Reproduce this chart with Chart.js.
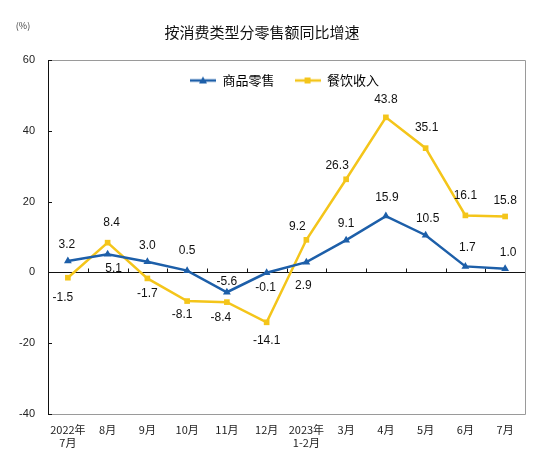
<!DOCTYPE html>
<html>
<head>
<meta charset="utf-8">
<script src="https://cdn.jsdelivr.net/npm/chart.js@4.4.0/dist/chart.umd.min.js"></script>
<style>
html,body{margin:0;padding:0;background:#fff;}
#wrap{width:554px;height:467px;position:relative;}
</style>
</head>
<body>
<div id="wrap"><canvas id="c" width="554" height="467"></canvas></div>
<script>
const categories = [["2022年","7月"],"8月","9月","10月","11月","12月",["2023年","1-2月"],"3月","4月","5月","6月","7月"];
const retailGoods = [3.2, 5.1, 3.0, 0.5, -5.6, -0.1, 2.9, 9.1, 15.9, 10.5, 1.7, 1.0];
const catering = [-1.5, 8.4, -1.7, -8.1, -8.4, -14.1, 9.2, 26.3, 43.8, 35.1, 16.1, 15.8];
const yTicks = [-40, -20, 0, 20, 40, 60];
const seriesNames = ["商品零售", "餐饮收入"];
const titleText = "按消费类型分零售额同比增速";
const unitText = "(%)";

const BLUE = '#1D5FA9';
const YELLOW = '#F4C51A';
const FONT = '"Liberation Sans", Arial, sans-serif';
const CJK = '"Noto Sans CJK SC", "Liberation Sans", sans-serif';

// label offsets relative to each point (style only)
const blueOffsets = [[-1,-16],[6,14],[0,-16],[0,-20],[0,-11],[-1,15],[-3,24],[0,-16],[1,-18],[2,-17],[2,-19],[3,-16]];
const yellowOffsets = [[-5,20],[4,-20],[0,15],[-5,14],[-6,16],[0,18],[-9,-13],[-9,-14],[0,-18],[1,-20],[0,-20],[0,-16]];

function legendIcon(color, style) {
  const cv = document.createElement('canvas');
  cv.width = 26; cv.height = 10;
  const g = cv.getContext('2d');
  g.strokeStyle = color; g.lineWidth = 2.5;
  g.beginPath(); g.moveTo(0,5); g.lineTo(26,5); g.stroke();
  g.fillStyle = color;
  if (style === 'triangle') {
    g.beginPath(); g.moveTo(13,1); g.lineTo(17,8); g.lineTo(9,8); g.closePath(); g.fill();
  } else {
    g.fillRect(10,2,6,6);
  }
  return cv;
}

const legendRowPlugin = {
  id: 'legendRow',
  beforeLayout(chart) {
    if (chart.legend) chart.legend.isHorizontal = () => true;
  },
  afterLayout(chart) {
    const lg = chart.legend;
    if (lg) {
      const h = lg.bottom - lg.top;
      lg.top = chart.chartArea.top - 6;
      lg.bottom = lg.top + h;
      lg.left = 170;
    }
  }
};

const framePlugin = {
  id: 'frame',
  beforeDatasetsDraw(chart) {
    const {ctx, chartArea: a, scales} = chart;
    const y = scales.y, x = scales.x;
    ctx.save();
    ctx.lineWidth = 1;
    ctx.strokeStyle = '#9a9a9a';
    ctx.beginPath();
    ctx.moveTo(a.left, a.top + 0.5); ctx.lineTo(a.right + 0.5, a.top + 0.5);
    ctx.lineTo(a.right + 0.5, a.bottom + 0.5); ctx.lineTo(a.left, a.bottom + 0.5);
    ctx.stroke();
    ctx.strokeStyle = '#111';
    ctx.beginPath();
    ctx.moveTo(a.left + 0.5, a.top); ctx.lineTo(a.left + 0.5, a.bottom + 1);
    const zy = Math.round(y.getPixelForValue(0)) + 0.5;
    ctx.moveTo(a.left, zy); ctx.lineTo(a.right, zy);
    yTicks.forEach(v => {
      const py = Math.round(y.getPixelForValue(v)) + 0.5;
      ctx.moveTo(a.left, py); ctx.lineTo(a.left + 4, py);
    });
    for (let i = 1; i < categories.length; i++) {
      const px = Math.round((x.getPixelForValue(i - 1) + x.getPixelForValue(i)) / 2) + 0.5;
      ctx.moveTo(px, zy); ctx.lineTo(px, zy - 4);
    }
    ctx.stroke();
    ctx.restore();
  },
  afterDatasetsDraw(chart) {
    const {ctx} = chart;
    ctx.save();
    ctx.font = '12px ' + FONT;
    ctx.fillStyle = '#111';
    ctx.textAlign = 'center';
    ctx.textBaseline = 'middle';
    chart.data.datasets.forEach((ds, di) => {
      const meta = chart.getDatasetMeta(di);
      meta.data.forEach((pt, i) => {
        const off = ds.labelOffsets[i];
        ctx.fillText(ds.data[i].toFixed(1), pt.x + off[0], pt.y + off[1]);
      });
    });
    ctx.font = '15px ' + CJK;
    ctx.fillStyle = '#111';
    ctx.fillText(titleText, 262, 32);
    ctx.font = '9px ' + CJK;
    ctx.fillStyle = '#444';
    ctx.fillText(unitText, 23, 26);
    ctx.restore();
  }
};

new Chart(document.getElementById('c'), {
  type: 'line',
  data: {
    labels: categories,
    datasets: [
      {
        label: seriesNames[0], data: retailGoods,
        borderColor: BLUE, backgroundColor: BLUE, borderWidth: 2.5,
        pointStyle: 'triangle', pointRadius: 4.5, pointBorderWidth: 0,
        tension: 0, labelOffsets: blueOffsets, legendIcon: legendIcon(BLUE, 'triangle')
      },
      {
        label: seriesNames[1], data: catering,
        borderColor: YELLOW, backgroundColor: YELLOW, borderWidth: 2.5,
        pointStyle: 'rect', pointRadius: 4, pointBorderWidth: 0,
        tension: 0, labelOffsets: yellowOffsets, legendIcon: legendIcon(YELLOW, 'rect')
      }
    ]
  },
  options: {
    responsive: false,
    animation: false,
    layout: { padding: { top: 60, right: 29, left: 0, bottom: 0 } },
    plugins: {
      title: { display: false },
      tooltip: { enabled: false },
      legend: {
        position: 'chartArea',
        align: 'start',
        labels: {
          usePointStyle: true,
          pointStyleWidth: 26,
          font: { size: 13, family: CJK },
          color: '#111',
          padding: 20,
          generateLabels(chart) {
            return chart.data.datasets.map((ds, i) => ({
              text: ds.label, pointStyle: ds.legendIcon, fillStyle: ds.borderColor,
              strokeStyle: ds.borderColor, lineWidth: 0, hidden: false, datasetIndex: i
            }));
          }
        }
      }
    },
    scales: {
      x: {
        offset: true,
        grid: { display: false, drawTicks: false },
        border: { display: false },
        ticks: { font: { size: 11, family: CJK }, color: '#222', padding: 9, maxRotation: 0, autoSkip: false },
        afterFit(s) { s.height = 53; }
      },
      y: {
        min: -40, max: 60,
        afterBuildTicks(s) { s.ticks = yTicks.map(v => ({ value: v })); },
        grid: { display: false, drawTicks: false },
        border: { display: false },
        ticks: { font: { size: 11, family: FONT }, color: '#222', padding: 13 },
        afterFit(s) { s.width = 48; }
      }
    }
  },
  plugins: [legendRowPlugin, framePlugin]
});
</script>
</body>
</html>
